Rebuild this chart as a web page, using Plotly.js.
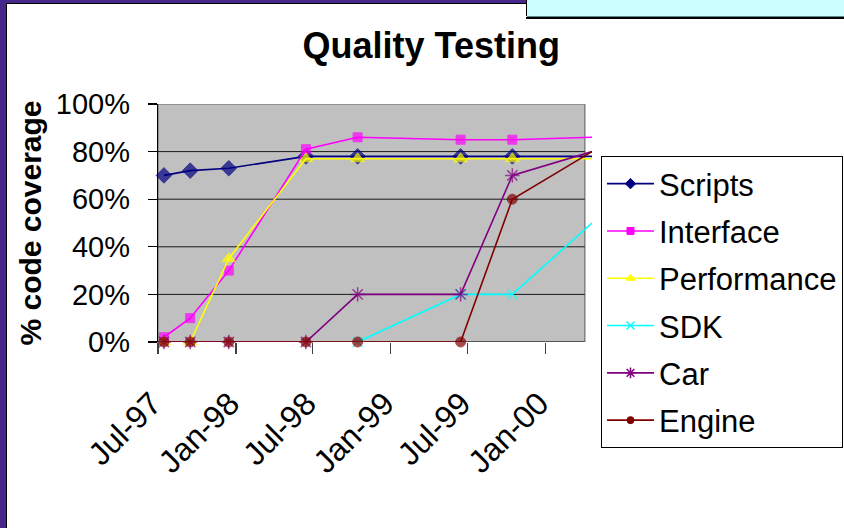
<!DOCTYPE html>
<html>
<head>
<meta charset="utf-8">
<script src="https://cdn.plot.ly/plotly-3.0.1.min.js"></script>
<style>
  html, body { margin: 0; padding: 0; background: #ffffff; }
  #wrap { position: relative; width: 844px; height: 528px; overflow: hidden; }
  #chart { position: absolute; left: 0; top: 0; width: 844px; height: 528px; }
  .deco { position: absolute; }
</style>
</head>
<body>
<div id="wrap">
  <div id="chart"></div>
  <div class="deco" style="left:0;top:0;width:6px;height:528px;background:#45288A;"></div>
  <div class="deco" style="left:0;top:0;width:526px;height:3px;background:#45288A;"></div>
  <div class="deco" style="left:6px;top:3px;width:520px;height:1px;background:#000;"></div>
  <div class="deco" style="left:6px;top:3px;width:1px;height:525px;background:#000;"></div>
  <div class="deco" style="left:526px;top:0;width:318px;height:16px;background:#CCFFFF;border-left:1px solid #000;"></div>
  <div class="deco" style="left:527px;top:16px;width:317px;height:1px;background:#5E8C8C;"></div>
  <div class="deco" style="left:526px;top:17px;width:318px;height:2px;background:#000;"></div>
</div>
<script>
// ---- data ----
const dates = ['1997-07-15','1997-09-15','1997-12-15','1998-06-15','1998-10-15','1999-06-15','1999-10-15','2000-04-20'];
const scripts     = [0.70, 0.72, 0.73, 0.78, 0.78, 0.78, 0.78, 0.78];
const iface       = [0.02, 0.10, 0.30, 0.81, 0.86, 0.85, 0.85, 0.86];
const performance = [0.00, 0.00, 0.35, 0.77, 0.77, 0.77, 0.77, 0.77];
const sdk         = [null, null, null, null, 0.00, 0.20, 0.20, 0.50];
const car         = [0.00, 0.00, 0.00, 0.00, 0.20, 0.20, 0.70, 0.80];
const engine      = [0.00, 0.00, 0.00, 0.00, 0.00, 0.00, 0.60, 0.80];

const seriesNames = ['Scripts','Interface','Performance','SDK','Car','Engine'];
const xTickVals = ['1997-07-01','1998-01-01','1998-07-01','1999-01-01','1999-07-01','2000-01-01'];
const xTickText = ['Jul-97','Jan-98','Jul-98','Jan-99','Jul-99','Jan-00'];
const yTickVals = [0, 0.2, 0.4, 0.6, 0.8, 1.0];

const xStart = '1997-07-01';
const xEnd = '2000-04-20';
const grayEnd = '2000-04-03';

const FONT = 'Liberation Sans, Arial, Helvetica, sans-serif';

function sizes(n, s) {
  // no marker on the last (off-plot) point
  return dates.map((d, i) => (i === n - 1 ? 0 : s));
}

const styles = [
  {color: '#000080', symbol: 'diamond', size: 12, lw: 1, ls: 8},
  {color: '#FF00FF', symbol: 'square', size: 9, lw: 1, ls: 7},
  {color: '#FFFF00', symbol: 'triangle-up', size: 12, lw: 1, ls: 8},
  {color: '#00FFFF', symbol: 'x-thin-open', size: 10, lw: 1.5, ls: 8},
  {color: '#800080', symbol: 'asterisk-open', size: 12, lw: 1.5, ls: 9},
  {color: '#800000', symbol: 'circle', size: 10, lw: 1, ls: 7}
];
const values = [scripts, iface, performance, sdk, car, engine];

const traces = values.map((v, k) => ({
  type: 'scatter',
  mode: 'lines+markers',
  name: seriesNames[k],
  showlegend: false,
  x: dates,
  y: v,
  cliponaxis: false,
  line: {color: styles[k].color, width: 1.6},
  marker: {
    symbol: styles[k].symbol,
    size: sizes(dates.length, styles[k].size),
    color: styles[k].color,
    line: {color: styles[k].color, width: styles[k].lw}
  }
}));

// legend entries (smaller legend symbols, as in the reference)
const legendTraces = values.map((v, k) => ({
  type: 'scatter',
  mode: 'lines+markers',
  name: seriesNames[k],
  legendgroup: 'g' + k,
  x: [null], y: [null],
  line: {color: styles[k].color, width: 1.6},
  marker: {symbol: styles[k].symbol, size: styles[k].ls, color: styles[k].color,
           line: {color: styles[k].color, width: styles[k].lw}}
}));

const shapes = [];
shapes.push({type: 'rect', xref: 'x', yref: 'y', x0: xStart, x1: grayEnd, y0: 0, y1: 1,
  fillcolor: '#C0C0C0', line: {color: '#808080', width: 1.5}, layer: 'below'});
yTickVals.filter(v => v > 0 && v < 1).forEach(v => {
  shapes.push({type: 'line', xref: 'x', yref: 'y', x0: xStart, x1: grayEnd, y0: v, y1: v,
    line: {color: '#1a1a1a', width: 1}, layer: 'below'});
});
shapes.push({type: 'line', xref: 'x', yref: 'y', x0: xStart, x1: grayEnd, y0: 0, y1: 0,
  line: {color: '#404040', width: 1.5}, layer: 'below'});

const layout = {
  width: 844, height: 528,
  margin: {l: 158, r: 252, t: 104, b: 186, pad: 0, autoexpand: false},
  paper_bgcolor: '#ffffff',
  plot_bgcolor: 'rgba(0,0,0,0)',
  font: {family: FONT, color: '#000000', size: 29},
  showlegend: true,
  title: {
    text: '<b>Quality Testing</b>',
    font: {family: FONT, size: 36, color: '#000000'},
    xref: 'container', yref: 'container',
    x: 0.511, xanchor: 'center',
    y: 1 - 45 / 528, yanchor: 'middle'
  },
  xaxis: {
    type: 'date',
    range: [xStart, xEnd],
    tickvals: xTickVals,
    ticktext: xTickText,
    tickangle: -45,
    ticks: 'outside', ticklen: 11, tickwidth: 1.2, tickcolor: '#404040',
    ticklabelstandoff: 18,
    ticklabelshift: -6,
    showgrid: false, zeroline: false, showline: false,
    tickfont: {family: FONT, size: 32, color: '#000'},
    fixedrange: true
  },
  yaxis: {
    range: [0, 1],
    tickvals: yTickVals,
    tickformat: '.0%',
    ticks: 'outside', ticklen: 9, tickwidth: 1.2, tickcolor: '#000',
    ticklabelstandoff: 12,
    showgrid: false, zeroline: false,
    showline: true, linecolor: '#000', linewidth: 1.2,
    tickfont: {family: FONT, size: 29, color: '#000'},
    title: {text: '<b>% code coverage</b>', font: {family: FONT, size: 30, color: '#000'}, standoff: 5},
    fixedrange: true
  },
  legend: {
    xref: 'container', yref: 'container',
    x: 601 / 844, xanchor: 'left',
    y: 1 - 156 / 528, yanchor: 'top',
    bgcolor: '#ffffff', bordercolor: '#000000', borderwidth: 1,
    font: {family: FONT, size: 31, color: '#000'},
    traceorder: 'grouped', tracegroupgap: 4,
    itemwidth: 47,
    maxheight: 400
  },
  shapes: shapes
};

Plotly.newPlot('chart', traces.concat(legendTraces), layout, {displayModeBar: false, staticPlot: true});
</script>
</body>
</html>
